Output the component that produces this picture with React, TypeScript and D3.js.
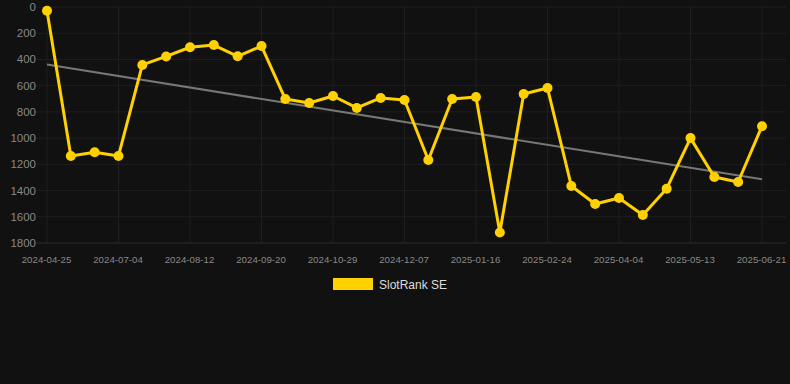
import React from "react";
import * as d3 from "d3";

const dates = [
  "2024-04-25", "2024-06-08", "2024-06-21", "2024-07-04", "2024-07-17", "2024-07-30",
  "2024-08-12", "2024-08-25", "2024-09-07", "2024-09-20", "2024-10-03", "2024-10-16",
  "2024-10-29", "2024-11-11", "2024-11-24", "2024-12-07", "2024-12-20", "2025-01-03",
  "2025-01-16", "2025-01-29", "2025-02-11", "2025-02-24", "2025-03-09", "2025-03-22",
  "2025-04-04", "2025-04-17", "2025-04-30", "2025-05-13", "2025-05-26", "2025-06-08",
  "2025-06-21",
];
const values = [
  28, 1136, 1108, 1136, 442, 377, 307, 290, 376, 298, 702, 732, 679, 770, 694, 709,
  1167, 702, 686, 1720, 664, 618, 1365, 1503, 1457, 1586, 1386, 1000, 1297, 1335, 909,
];
const yTicks = [0, 200, 400, 600, 800, 1000, 1200, 1400, 1600, 1800];
const seriesName = "SlotRank SE";

export default function App() {
  const W = 790, H = 384;
  const left = 47, right = 762, top = 7, bottom = 243;
  const x = d3.scalePoint<string>().domain(dates).range([left, right]);
  const y = d3.scaleLinear().domain([0, 1800]).range([top, bottom]);

  const idx = values.map((_, i) => i);
  const mx = d3.mean(idx)!;
  const my = d3.mean(values)!;
  const slope =
    d3.sum(idx, (i) => (i - mx) * (values[i] - my)) / d3.sum(idx, (i) => (i - mx) ** 2);
  const b = my - slope * mx;
  const trend = [0, values.length - 1].map((i) => ({ d: dates[i], v: b + slope * i }));

  const line = d3
    .line<number>()
    .x((_, i) => x(dates[i])!)
    .y((v) => y(v));

  const labelDates = dates.filter((_, i) => i % 3 === 0);
  const font = "Arial, 'Liberation Sans', sans-serif";

  return (
    <svg
      width={W}
      height={H}
      style={{ position: "absolute", left: 0, top: 0, background: "#111111" }}
    >
      <rect x={0} y={0} width={W} height={H} fill="#111111" />
      {yTicks.map((t) => (
        <line
          key={"h" + t}
          x1={37}
          x2={786}
          y1={y(t)}
          y2={y(t)}
          stroke={t === 1800 ? "#2c2c2c" : "#1f1f1f"}
          strokeWidth={1}
        />
      ))}
      {labelDates.map((d) => (
        <line key={"v" + d} x1={x(d)} x2={x(d)} y1={top} y2={bottom} stroke="#1f1f1f" />
      ))}
      {yTicks.map((t) => (
        <text
          key={"yt" + t}
          x={36}
          y={y(t)}
          dy="0.35em"
          textAnchor="end"
          fill="#888"
          fontSize={11.5}
          fontFamily={font}
        >
          {t}
        </text>
      ))}
      {labelDates.map((d) => (
        <text
          key={"xt" + d}
          x={x(d)! - 0.5}
          y={263}
          textAnchor="middle"
          fill="#888"
          fontSize={9.7}
          fontFamily={font}
        >
          {d}
        </text>
      ))}
      <line
        x1={x(trend[0].d)}
        y1={y(trend[0].v)}
        x2={x(trend[1].d)}
        y2={y(trend[1].v)}
        stroke="#777"
        strokeWidth={2}
      />
      <path d={line(values) || ""} fill="none" stroke="#FFD100" strokeWidth={3} strokeLinejoin="round" />
      {values.map((v, i) => (
        <circle key={"c" + i} cx={x(dates[i])} cy={y(v)} r={5} fill="#FFD100" />
      ))}
      <rect x={333} y={278} width={40} height={12} fill="#FFD100" />
      <text x={379} y={288.5} fill="#ddd" fontSize={12} fontFamily={font}>
        {seriesName}
      </text>
    </svg>
  );
}
